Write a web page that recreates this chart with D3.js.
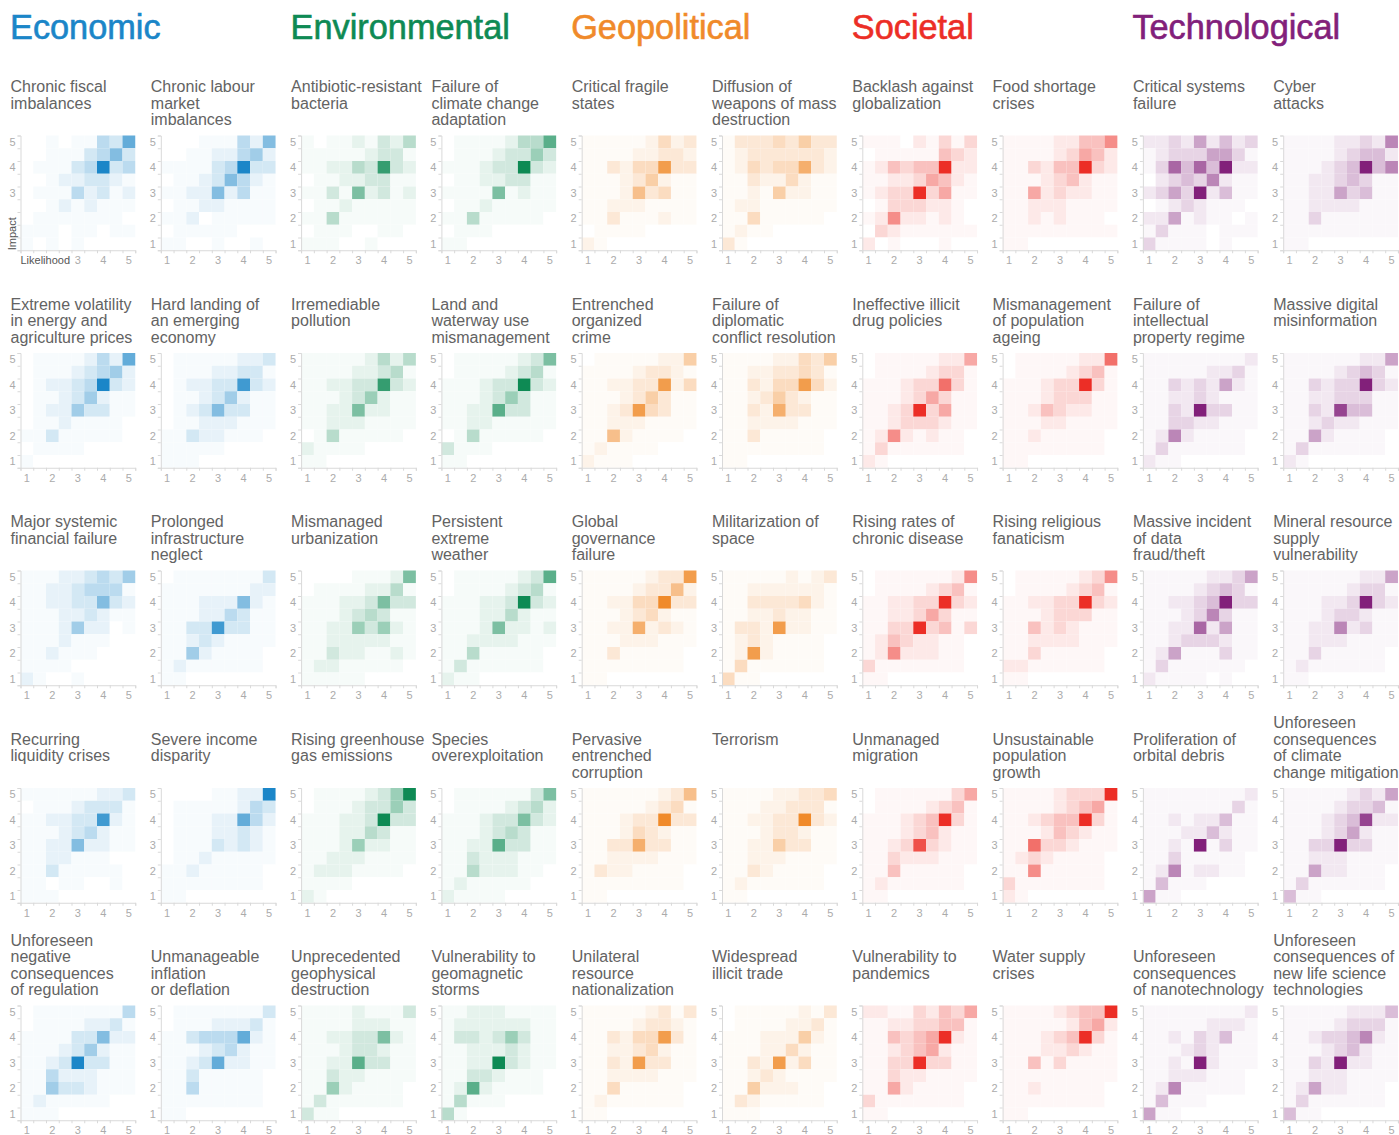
<!DOCTYPE html>
<html>
<head>
<meta charset="utf-8">
<script src="https://cdn.jsdelivr.net/npm/d3@7"></script>
<style>
  body { margin: 0; background: #fff; }
  svg { display: block; font-family: "Liberation Sans", Arial, sans-serif; }
</style>
</head>
<body>
<script>
// category names and colours
const categories = ["Economic", "Environmental", "Geopolitical", "Societal", "Technological"];
const categoryColors = ["#1b86c8", "#0e8a54", "#f08a2a", "#ec2e26", "#82207a"];

// risk titles, "|" marks a line break
const economicRisks = ["Chronic fiscal|imbalances", "Chronic labour|market|imbalances",
  "Extreme volatility|in energy and|agriculture prices", "Hard landing of|an emerging|economy",
  "Major systemic|financial failure", "Prolonged|infrastructure|neglect",
  "Recurring|liquidity crises", "Severe income|disparity",
  "Unforeseen|negative|consequences|of regulation", "Unmanageable|inflation|or deflation"];
const environmentalRisks = ["Antibiotic-resistant|bacteria", "Failure of|climate change|adaptation",
  "Irremediable|pollution", "Land and|waterway use|mismanagement",
  "Mismanaged|urbanization", "Persistent|extreme|weather",
  "Rising greenhouse|gas emissions", "Species|overexploitation",
  "Unprecedented|geophysical|destruction", "Vulnerability to|geomagnetic|storms"];
const geopoliticalRisks = ["Critical fragile|states", "Diffusion of|weapons of mass|destruction",
  "Entrenched|organized|crime", "Failure of|diplomatic|conflict resolution",
  "Global|governance|failure", "Militarization of|space",
  "Pervasive|entrenched|corruption", "Terrorism",
  "Unilateral|resource|nationalization", "Widespread|illicit trade"];
const societalRisks = ["Backlash against|globalization", "Food shortage|crises",
  "Ineffective illicit|drug policies", "Mismanagement|of population|ageing",
  "Rising rates of|chronic disease", "Rising religious|fanaticism",
  "Unmanaged|migration", "Unsustainable|population|growth",
  "Vulnerability to|pandemics", "Water supply|crises"];
const technologicalRisks = ["Critical systems|failure", "Cyber|attacks",
  "Failure of|intellectual|property regime", "Massive digital|misinformation",
  "Massive incident|of data|fraud/theft", "Mineral resource|supply|vulnerability",
  "Proliferation of|orbital debris", "Unforeseen|consequences|of climate|change mitigation",
  "Unforeseen|consequences|of nanotechnology", "Unforeseen|consequences of|new life science|technologies"];

// response intensity 0-9, rows = impact 5 .. 1 (step 0.5), columns = likelihood 1 .. 5 (step 0.5)
const economicGrids = [
  ["001011437","001113463","011134934","001223321","011142312","001212111","011111110","111011011","101010000"],
  ["000111426","001122452","111134933","011236421","112262411","011221111","112011111","011111000","110010010"],
  ["011112427","011123452","012234932","011235211","012253311","011211110","113111110","011110000","100000000"],
  ["011111223","011122331","012233832","011235211","012363311","011222111","113221110","111110000","111000000"],
  ["111223435","112234441","112233632","111223211","111252201","111211100","112111000","111100000","210010000"],
  ["011111113","111111122","111222621","111224311","113383311","112321111","115211110","121111110","110000000"],
  ["111111223","011123331","112233821","111234211","112262211","112211100","113111110","110110010","111000000"],
  ["000011229","011111243","011122742","011122321","011132321","011211111","112111110","111111110","110000000"],
  ["011111114","011112231","111133622","111235211","112393311","114222111","115332111","121111100","111000000"],
  ["011111113","011122231","113444721","111234211","112372211","113111110","114111110","111111110","110000000"]];
const environmentalGrids = [
  ["101121324","111112331","112243832","011223311","113162312","011211111","114111111","011100110","111001000"],
  ["011112447","011123353","111233932","011223311","111161211","011211111","114111110","011100000","110000000"],
  ["111112424","111122341","112233832","111235211","112262211","112221111","014111110","211110000","110000000"],
  ["011111236","011112341","111233932","111235311","112273311","112211111","014111110","311100000","110000000"],
  ["000011126","011112241","111223633","111234311","112253521","112222211","113221121","122111110","111110000"],
  ["011111237","011112341","111223932","111224211","111262212","112222111","114111110","131111110","211000000"],
  ["011112359","011123353","111223933","111224311","111252211","112221111","122211110","111100000","210000000"],
  ["011111136","011112342","111233632","111234311","112273311","113222111","114222110","121111100","211110000"],
  ["111121113","111122211","112233621","111233211","112273311","113221111","115211110","131111110","311000000"],
  ["112221111","122222211","133235311","112223211","112293211","113321110","127211110","141110000","410000000"]];
const geopoliticalGrids = [
  ["111112423","111122332","113244833","111235211","111263411","112221111","113111211","011110000","210000000"],
  ["133343533","123333332","124344732","113224211","112152211","122111111","114111110","121100000","310000000"],
  ["011111225","111123321","112233824","111235311","112384311","112221111","116211110","121111000","211100000"],
  ["111122435","112233431","113244842","112353211","113273311","112222111","113111110","111111110","110000000"],
  ["111112338","111123362","112244933","111234211","112272321","111222111","113111110","111111110","110000000"],
  ["111112123","112222221","113333421","112232211","133282211","123211110","128211110","141111110","411000000"],
  ["111111236","111112341","111233933","111243211","113373311","112222111","132211110","111111110","110000000"],
  ["111122334","111223331","112233932","111233211","112253311","112221111","113211110","121111110","110000000"],
  ["111112313","111123321","113244831","112234211","113283311","112222111","114111110","121111110","110000000"],
  ["011111213","011112231","111222521","111224211","113282411","112321111","115222110","132111110","111000000"]];
const societalGrids = [
  ["111021313","011111432","124344922","112235421","123393511","013332210","126221210","032111111","201000100"],
  ["111122446","111123542","113244932","111234211","115232211","112221111","112121110","111111111","110000000"],
  ["011111225","011112331","111233731","111235311","112393511","112333211","126212110","131111110","210000000"],
  ["011111227","011112341","111233931","111233311","112432211","111221111","112111110","111111110","110000000"],
  ["011111126","011112341","112233932","112235311","113393413","124322110","126222110","311111110","110000000"],
  ["011111236","011112341","112233932","111233311","114232111","112222111","113111110","221111110","110000000"],
  ["011111135","011112341","111234931","111234211","112383211","113222111","114111110","121111110","110000000"],
  ["111123339","111123451","112344931","111243211","117332111","123211110","116111110","311111110","210000000"],
  ["221132435","112233441","114345921","112345211","113393311","113221111","115211110","311111110","110000000"],
  ["111123449","111112452","111234931","111223211","114131111","111111111","112111110","111111110","110000000"]];
const technologicalGrids = [
  ["223252423","123335531","137474922","023436211","235392411","012321110","225121101","131110111","311110100"],
  ["111122326","111123442","111234946","112234311","112253411","112222111","113111111","111111111","110000000"],
  ["111111112","111112231","113232521","112232111","113293311","113322111","126211110","131111110","211000000"],
  ["111111225","111123431","113233932","112233311","113284411","112322111","115211110","131111110","210000000"],
  ["111112235","111123431","112234933","111236311","112272511","112333211","125111311","131111110","211110100"],
  ["111111225","111112331","111223932","111233211","112262311","112221111","113111110","121111110","110000000"],
  ["111111112","111111131","112122411","111224211","112191311","113111110","126122110","141110000","511000000"],
  ["111112325","111123341","111234822","111235211","113393311","112221111","115221110","131111110","411000000"],
  ["111111112","111112221","112132411","111232111","112192111","112221110","126111110","141110000","511000000"],
  ["111112224","111123331","112334621","111234211","113292211","112221111","125221110","131111110","411000000"]];

const levels = [1, 1.5, 2, 2.5, 3, 3.5, 4, 4.5, 5];
const tickLabels = [1, 2, 3, 4, 5];

const allRisks = [economicRisks, environmentalRisks, geopoliticalRisks, societalRisks, technologicalRisks];
const allGrids = [economicGrids, environmentalGrids, geopoliticalGrids, societalGrids, technologicalGrids];

const W = 1399, H = 1135;
const colPitch = 140.3, rowPitch = 217.5;
const plotX0 = 20.5, plotY0 = 135.5, plotSize = 114.75;
const titleDx = -10, titleY0 = 92, lineH = 16.5;

const svg = d3.select("body").append("svg").attr("width", W).attr("height", H);

// category headers
svg.selectAll("text.cat")
  .data(categories)
  .enter().append("text")
  .attr("class", "cat")
  .attr("x", (d, i) => 10 + i * 2 * colPitch)
  .attr("y", 38.5)
  .attr("font-size", 34.3)
  .attr("fill", (d, i) => categoryColors[i])
  .attr("stroke", (d, i) => categoryColors[i])
  .attr("stroke-width", 0.6)
  .text(d => d);

const x = d3.scaleLinear().domain([0.75, 5.25]).range([0, plotSize]);
const y = d3.scaleLinear().domain([0.75, 5.25]).range([plotSize, 0]);
const intensity = d3.scalePow().exponent(1.5).domain([0, 9]).range([0, 1]);
const edges = d3.range(0.75, 5.26, 0.5);

allRisks.forEach((risks, ci) => {
  const color = categoryColors[ci];
  risks.forEach((title, ri) => {
    const row = Math.floor(ri / 2), col = ci * 2 + (ri % 2);
    const gx = plotX0 + col * colPitch, gy = plotY0 + row * rowPitch;
    const first = ci === 0 && ri === 0;

    // title
    const lines = title.split("|");
    const ty = row * rowPitch + titleY0 - Math.max(0, lines.length - 3) * lineH;
    const t = svg.append("text")
      .attr("x", gx + titleDx).attr("y", ty)
      .attr("font-size", 16).attr("fill", "#636363");
    lines.forEach((ln, k) => {
      t.append("tspan").attr("x", gx + titleDx).attr("y", ty + k * lineH).text(ln);
    });

    const g = svg.append("g").attr("transform", `translate(${gx},${gy})`);

    // cells
    const cells = [];
    allGrids[ci][ri].forEach((str, r) => {
      levels.forEach((lik, c) => {
        cells.push({ lik: lik, imp: 5 - r * 0.5, v: +(str[c] || 0) });
      });
    });
    g.selectAll("rect")
      .data(cells)
      .enter().append("rect")
      .attr("x", d => x(d.lik - 0.25))
      .attr("y", d => y(d.imp + 0.25))
      .attr("width", x(1.25) - x(0.75))
      .attr("height", y(0.75) - y(1.25))
      .attr("fill", d => d3.interpolateRgb("#ffffff", color)(intensity(d.v)));

    // axis lines with minor ticks
    const yMinor = g.append("g")
      .call(d3.axisLeft(y).tickValues(edges).tickSize(3).tickFormat(""));
    const xMinor = g.append("g").attr("transform", `translate(0,${plotSize})`)
      .call(d3.axisBottom(x).tickValues(edges).tickSize(3).tickFormat(""));
    [yMinor, xMinor].forEach(a => {
      a.selectAll("path, line").attr("stroke", "#d9d9d9");
    });

    // tick labels
    const shown = first ? tickLabels.filter(v => v >= 3) : tickLabels;
    g.selectAll("text.ylab")
      .data(shown)
      .enter().append("text")
      .attr("class", "ylab")
      .attr("x", -5).attr("y", d => y(d)).attr("dy", "0.35em")
      .attr("text-anchor", "end")
      .attr("font-size", 11).attr("fill", "#ababab")
      .text(d => d);
    g.selectAll("text.xlab")
      .data(shown)
      .enter().append("text")
      .attr("class", "xlab")
      .attr("x", d => x(d)).attr("y", plotSize + 14)
      .attr("text-anchor", "middle")
      .attr("font-size", 11).attr("fill", "#ababab")
      .text(d => d);

    if (first) {
      g.append("text")
        .attr("transform", `translate(-4.5,${plotSize}) rotate(-90)`)
        .attr("font-size", 11).attr("fill", "#555")
        .text("Impact");
      g.append("text")
        .attr("x", 0).attr("y", plotSize + 14)
        .attr("font-size", 11).attr("fill", "#555")
        .text("Likelihood");
    }
  });
});
</script>
</body>
</html>
